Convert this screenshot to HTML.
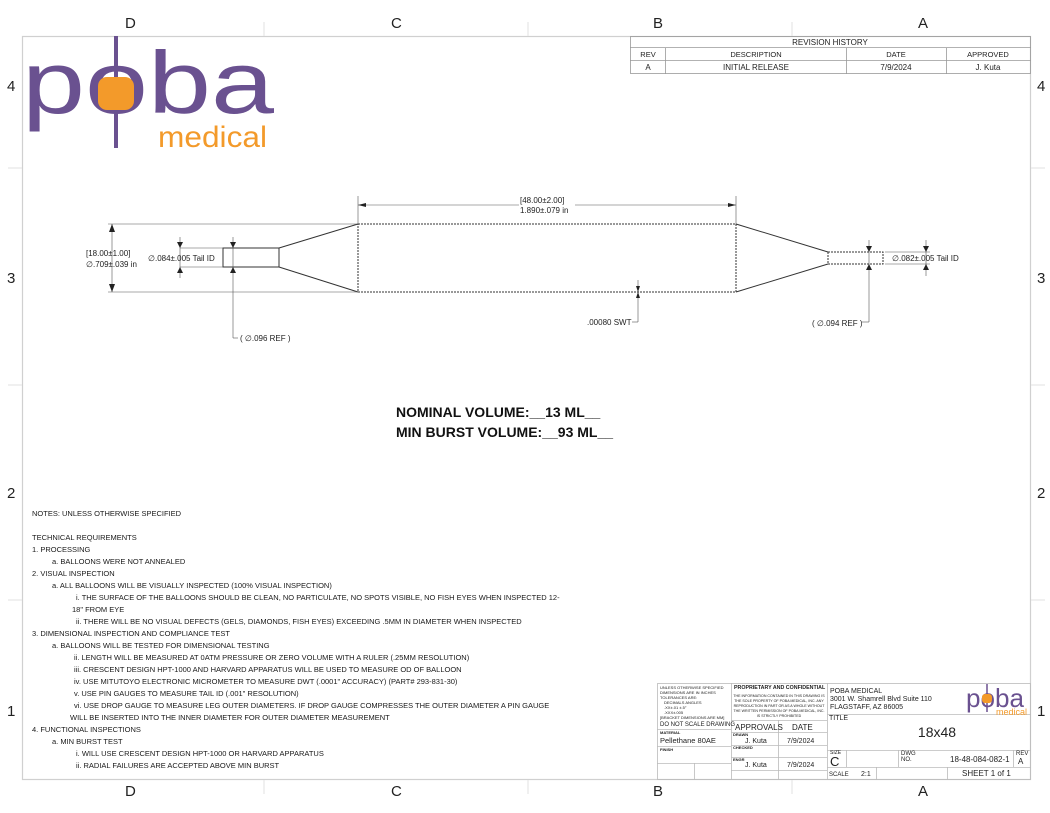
<!DOCTYPE html>
<html><head><meta charset="utf-8"><style>
html,body{margin:0;padding:0;background:#fff}
svg{display:block}
text{font-family:"Liberation Sans",sans-serif;fill:#222}
.n{font-size:7.5px;fill:#1a1a1a}
.t{font-size:4px}
</style></head><body>
<svg width="1050" height="813" viewBox="0 0 1050 813" xmlns="http://www.w3.org/2000/svg">
<rect x="22.5" y="36.5" width="1008" height="743" fill="none" stroke="#d0d0d0" stroke-width="1.2"/>
<g stroke="#e2e2e2" stroke-width="1">
<line x1="264" y1="22" x2="264" y2="36"/><line x1="528" y1="22" x2="528" y2="36"/><line x1="792" y1="22" x2="792" y2="36"/>
<line x1="264" y1="780" x2="264" y2="794"/><line x1="528" y1="780" x2="528" y2="794"/><line x1="792" y1="780" x2="792" y2="794"/>
<line x1="8" y1="168" x2="22" y2="168"/><line x1="8" y1="385" x2="22" y2="385"/><line x1="8" y1="600" x2="22" y2="600"/>
<line x1="1031" y1="168" x2="1045" y2="168"/><line x1="1031" y1="385" x2="1045" y2="385"/><line x1="1031" y1="600" x2="1045" y2="600"/>
</g>
<g>
<text x="125" y="28" style="font-size:15px">D</text><text x="391" y="28" style="font-size:15px">C</text><text x="653" y="28" style="font-size:15px">B</text><text x="918" y="28" style="font-size:15px">A</text>
<text x="125" y="796" style="font-size:15px">D</text><text x="391" y="796" style="font-size:15px">C</text><text x="653" y="796" style="font-size:15px">B</text><text x="918" y="796" style="font-size:15px">A</text>
<text x="7" y="91" style="font-size:15px">4</text><text x="7" y="283" style="font-size:15px">3</text><text x="7" y="498" style="font-size:15px">2</text><text x="7" y="716" style="font-size:15px">1</text>
<text x="1037" y="91" style="font-size:15px">4</text><text x="1037" y="283" style="font-size:15px">3</text><text x="1037" y="498" style="font-size:15px">2</text><text x="1037" y="716" style="font-size:15px">1</text>
</g>
<!-- logo -->
<text x="22" y="113" textLength="252" lengthAdjust="spacingAndGlyphs" style="font-size:88px;fill:#6a5190">poba</text>
<line x1="116" y1="36" x2="116" y2="148" stroke="#6a5190" stroke-width="4"/>
<rect x="98" y="77" width="36" height="33" rx="9" fill="#f39a2a"/>
<text x="158" y="147" textLength="109" lengthAdjust="spacingAndGlyphs" style="font-size:30px;fill:#f39a2a">medical</text>
<!-- revision table -->
<g stroke="#999" stroke-width="0.8" fill="none">
<rect x="630.5" y="36.5" width="400" height="37"/>
<line x1="630" y1="47.5" x2="1031" y2="47.5"/><line x1="630" y1="60.5" x2="1031" y2="60.5"/>
<line x1="665.5" y1="48" x2="665.5" y2="74"/><line x1="846.5" y1="48" x2="846.5" y2="74"/><line x1="946.5" y1="48" x2="946.5" y2="74"/>
</g>
<g text-anchor="middle">
<text x="830" y="45" style="font-size:8px">REVISION HISTORY</text>
<text x="648" y="57" style="font-size:7.5px">REV</text><text x="756" y="57" style="font-size:7.5px">DESCRIPTION</text><text x="896" y="57" style="font-size:7.5px">DATE</text><text x="988" y="57" style="font-size:7.5px">APPROVED</text>
<text x="648" y="70" style="font-size:8px">A</text><text x="756" y="70" style="font-size:8px">INITIAL RELEASE</text><text x="896" y="70" style="font-size:8px">7/9/2024</text><text x="988" y="70" style="font-size:8px">J. Kuta</text>
</g>
<!-- balloon -->
<g stroke="#333" stroke-width="1" fill="none">
<rect x="358" y="224" width="378" height="68" stroke-dasharray="2 1"/>
<line x1="358" y1="224" x2="279" y2="248"/><line x1="358" y1="292" x2="279" y2="267"/>
<rect x="223" y="248" width="56" height="19"/>
<line x1="736" y1="224" x2="828" y2="252"/><line x1="736" y1="292" x2="828" y2="264"/>
<rect x="828" y="252" width="55" height="12" stroke-dasharray="2 1"/>
</g>
<g stroke="#555" stroke-width="0.6" fill="none">
<line x1="108" y1="224" x2="358" y2="224"/><line x1="108" y1="292" x2="358" y2="292"/>
<line x1="112" y1="224" x2="112" y2="292"/>
<line x1="358" y1="196" x2="358" y2="224"/><line x1="736" y1="196" x2="736" y2="224"/>
<line x1="358" y1="205" x2="519" y2="205"/><line x1="575" y1="205" x2="736" y2="205"/>
<line x1="180" y1="248" x2="223" y2="248"/><line x1="180" y1="267" x2="223" y2="267"/>
<line x1="180" y1="237" x2="180" y2="278"/>
<line x1="233" y1="237" x2="233" y2="338"/><line x1="233" y1="338" x2="238" y2="338"/>
<line x1="638" y1="280" x2="638" y2="322"/><line x1="632" y1="322" x2="638" y2="322"/>
<line x1="885" y1="252" x2="930" y2="252"/><line x1="885" y1="264" x2="930" y2="264"/>
<line x1="926" y1="240" x2="926" y2="276"/>
<line x1="869" y1="240" x2="869" y2="322"/><line x1="862" y1="322" x2="869" y2="322"/>
</g>
<g fill="#222">
<polygon points="112,224 109,232 115,232"/><polygon points="112,292 109,284 115,284"/>
<polygon points="358,205 366,203 366,207"/><polygon points="736,205 728,203 728,207"/>
<polygon points="180,248 177,242 183,242"/><polygon points="180,267 177,273 183,273"/>
<polygon points="233,248 230,242 236,242"/><polygon points="233,267 230,273 236,273"/>
<polygon points="638,292 636,286 640,286"/><polygon points="638,292 636,298 640,298"/>
<polygon points="926,252 923,246 929,246"/><polygon points="926,264 923,270 929,270"/>
<polygon points="869,252 866,246 872,246"/><polygon points="869,264 866,270 872,270"/>
</g>
<g>
<text x="86" y="256" style="font-size:8px">[18.00±1.00]</text>
<text x="86" y="267" style="font-size:8px">∅.709±.039   in</text>
<text x="148" y="261" style="font-size:8px">∅.084±.005 Tail ID</text>
<text x="240" y="341" style="font-size:8px">( ∅.096 REF )</text>
<text x="520" y="203" style="font-size:8px">[48.00±2.00]</text>
<text x="520" y="213" style="font-size:8px">1.890±.079     in</text>
<text x="587" y="325" style="font-size:8px">.00080 SWT</text>
<text x="812" y="326" style="font-size:8px">( ∅.094 REF )</text>
<text x="892" y="261" style="font-size:8px">∅.082±.005 Tail ID</text>
</g>
<text x="396" y="417" style="font-size:14px;font-weight:bold;fill:#111">NOMINAL VOLUME:__13 ML__</text>
<text x="396" y="437" style="font-size:14px;font-weight:bold;fill:#111">MIN BURST VOLUME:__93 ML__</text>
<!-- notes -->
<g>
<text x="32" y="516" class="n">NOTES: UNLESS OTHERWISE SPECIFIED</text>
<text x="32" y="540" class="n">TECHNICAL REQUIREMENTS</text>
<text x="32" y="552" class="n">1. PROCESSING</text>
<text x="52" y="564" class="n">a. BALLOONS WERE NOT ANNEALED</text>
<text x="32" y="576" class="n">2. VISUAL INSPECTION</text>
<text x="52" y="588" class="n">a. ALL BALLOONS WILL BE VISUALLY INSPECTED (100% VISUAL INSPECTION)</text>
<text x="76" y="600" class="n">i. THE SURFACE OF THE BALLOONS SHOULD BE CLEAN, NO PARTICULATE, NO SPOTS VISIBLE, NO FISH EYES WHEN INSPECTED 12-</text>
<text x="72" y="612" class="n">18" FROM EYE</text>
<text x="76" y="624" class="n">ii. THERE WILL BE NO VISUAL DEFECTS (GELS, DIAMONDS, FISH EYES) EXCEEDING .5MM IN DIAMETER WHEN INSPECTED</text>
<text x="32" y="636" class="n">3. DIMENSIONAL INSPECTION AND COMPLIANCE TEST</text>
<text x="52" y="648" class="n">a. BALLOONS WILL BE TESTED FOR DIMENSIONAL TESTING</text>
<text x="74" y="660" class="n">ii. LENGTH WILL BE MEASURED AT 0ATM PRESSURE OR ZERO VOLUME WITH A RULER (.25MM RESOLUTION)</text>
<text x="74" y="672" class="n">iii. CRESCENT DESIGN HPT-1000 AND HARVARD APPARATUS WILL BE USED TO MEASURE OD OF BALLOON</text>
<text x="74" y="684" class="n">iv. USE MITUTOYO ELECTRONIC MICROMETER TO MEASURE DWT (.0001" ACCURACY) (PART# 293-831-30)</text>
<text x="74" y="696" class="n">v. USE PIN GAUGES TO MEASURE TAIL ID (.001" RESOLUTION)</text>
<text x="74" y="708" class="n">vi. USE DROP GAUGE TO MEASURE LEG OUTER DIAMETERS. IF DROP GAUGE COMPRESSES THE OUTER DIAMETER A PIN GAUGE</text>
<text x="70" y="720" class="n">WILL BE INSERTED INTO THE INNER DIAMETER FOR OUTER DIAMETER MEASUREMENT</text>
<text x="32" y="732" class="n">4. FUNCTIONAL INSPECTIONS</text>
<text x="52" y="744" class="n">a. MIN BURST TEST</text>
<text x="76" y="756" class="n">i. WILL USE CRESCENT DESIGN HPT-1000 OR HARVARD APPARATUS</text>
<text x="76" y="768" class="n">ii. RADIAL FAILURES ARE ACCEPTED ABOVE MIN BURST</text>
</g>
<!-- title block -->
<g stroke="#bbb" stroke-width="0.8" fill="none">
<rect x="657.5" y="683.5" width="373" height="96"/>
<line x1="731.5" y1="683" x2="731.5" y2="780"/><line x1="827.5" y1="683" x2="827.5" y2="780"/>
<line x1="657" y1="729.5" x2="731" y2="729.5"/><line x1="657" y1="746.5" x2="731" y2="746.5"/><line x1="657" y1="763.5" x2="731" y2="763.5"/>
<line x1="694.5" y1="763" x2="694.5" y2="780"/>
<line x1="731" y1="720.5" x2="827" y2="720.5"/><line x1="731" y1="732.5" x2="827" y2="732.5"/><line x1="731" y1="745.5" x2="827" y2="745.5"/><line x1="731" y1="757.5" x2="827" y2="757.5"/><line x1="731" y1="770.5" x2="827" y2="770.5"/>
<line x1="778.5" y1="720" x2="778.5" y2="780"/>
<line x1="827" y1="714.5" x2="1031" y2="714.5"/><line x1="827" y1="750.5" x2="1031" y2="750.5"/><line x1="827" y1="767.5" x2="1031" y2="767.5"/>
<line x1="846.5" y1="750" x2="846.5" y2="767"/><line x1="898.5" y1="750" x2="898.5" y2="767"/><line x1="1013.5" y1="750" x2="1013.5" y2="767"/>
<line x1="876.5" y1="767" x2="876.5" y2="780"/><line x1="947.5" y1="767" x2="947.5" y2="780"/>
</g>
<g>
<text x="660" y="689" class="t">UNLESS OTHERWISE SPECIFIED</text>
<text x="660" y="694" class="t">DIMENSIONS ARE IN INCHES</text>
<text x="660" y="699" class="t">TOLERANCES ARE:</text>
<text x="664" y="704" class="t">DECIMALS  ANGLES</text>
<text x="664" y="709" class="t">.XX±.01   ±.5°</text>
<text x="664" y="714" class="t">.XXX±.005</text>
<text x="660" y="719" class="t">[BRACKET DIMENSIONS ARE MM]</text>
<text x="660" y="726" style="font-size:6px">DO NOT SCALE DRAWING</text>
<text x="660" y="734" style="font-size:4px;font-weight:bold">MATERIAL</text>
<text x="660" y="743" style="font-size:7.5px">Pellethane 80AE</text>
<text x="660" y="751" style="font-size:4px;font-weight:bold">FINISH</text>
<text x="734" y="689" style="font-size:5.3px;font-weight:bold">PROPRIETARY AND CONFIDENTIAL</text>
<text x="779" y="697" text-anchor="middle" style="font-size:3.6px">THE INFORMATION CONTAINED IN THIS DRAWING IS</text>
<text x="779" y="702" text-anchor="middle" style="font-size:3.6px">THE SOLE PROPERTY OF POBA MEDICAL, INC. ANY</text>
<text x="779" y="707" text-anchor="middle" style="font-size:3.6px">REPRODUCTION IN PART OR AS A WHOLE WITHOUT</text>
<text x="779" y="712" text-anchor="middle" style="font-size:3.6px">THE WRITTEN PERMISSION OF POBA MEDICAL, INC.</text>
<text x="779" y="717" text-anchor="middle" style="font-size:3.6px">IS STRICTLY PROHIBITED</text>
<text x="735" y="730" style="font-size:8px">APPROVALS</text>
<text x="792" y="730" style="font-size:8px">DATE</text>
<text x="733" y="736" style="font-size:4px;font-weight:bold">DRAWN</text>
<text x="745" y="743" style="font-size:7px">J. Kuta</text><text x="787" y="743" style="font-size:7px">7/9/2024</text>
<text x="733" y="749" style="font-size:4px;font-weight:bold">CHECKED</text>
<text x="733" y="761" style="font-size:4px;font-weight:bold">ENGR</text>
<text x="745" y="767" style="font-size:7px">J. Kuta</text><text x="787" y="767" style="font-size:7px">7/9/2024</text>
<text x="830" y="693" style="font-size:7px">POBA MEDICAL</text>
<text x="830" y="701" style="font-size:7px">3001 W. Shamrell Blvd Suite 110</text>
<text x="830" y="709" style="font-size:7px">FLAGSTAFF, AZ 86005</text>
<text x="829" y="720" style="font-size:7px">TITLE</text>
<text x="937" y="737" text-anchor="middle" style="font-size:14px">18x48</text>
<text x="830" y="754" style="font-size:5px">SIZE</text>
<text x="830" y="766" style="font-size:13px">C</text>
<text x="901" y="755" style="font-size:6px">DWG</text>
<text x="901" y="761" style="font-size:6px">NO.</text>
<text x="950" y="762" style="font-size:8px">18-48-084-082-1</text>
<text x="1016" y="755" style="font-size:6px">REV</text>
<text x="1018" y="764" style="font-size:8px">A</text>
<text x="829" y="776" style="font-size:6px">SCALE</text>
<text x="861" y="776" style="font-size:7px">2:1</text>
<text x="962" y="776" style="font-size:8px">SHEET 1 of 1</text>
<text x="966" y="707" textLength="58" lengthAdjust="spacingAndGlyphs" style="font-size:26px;fill:#6a5190">poba</text>
<line x1="987" y1="684" x2="987" y2="712" stroke="#6a5190" stroke-width="1.5"/>
<rect x="982" y="694" width="10" height="9" rx="3" fill="#f39a2a"/>
<text x="996" y="715" style="font-size:9px;fill:#f39a2a">medical</text>
</g>
</svg>
</body></html>
